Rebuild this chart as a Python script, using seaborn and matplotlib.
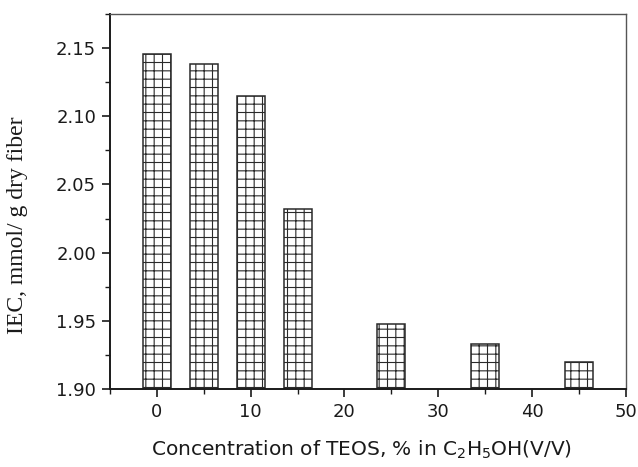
import matplotlib
matplotlib.use("Agg")
import matplotlib.pyplot as plt
from matplotlib.ticker import MultipleLocator, FormatStrFormatter
import pandas as pd
import seaborn as sns

# TEOS concentration (% in ethanol) and ion exchange capacity
teos_conc = [0, 5, 10, 15, 25, 35, 45]
iec_values = [2.146, 2.138, 2.115, 2.032, 1.948, 1.933, 1.920]

df = pd.DataFrame({"conc": teos_conc, "iec": iec_values})

sns.set_theme(style="ticks")
plt.rcParams["font.family"] = ["DejaVu Sans"]
plt.rcParams["hatch.linewidth"] = 0.8
plt.rcParams["hatch.color"] = "#2a2a2a"

fig = plt.figure(figsize=(6.38, 4.67), dpi=100)
ax = fig.add_axes([0.1724, 0.167, 0.8086, 0.803])

sns.barplot(data=df, x="conc", y="iec", native_scale=True, width=0.6,
            color="white", edgecolor="#2a2a2a", linewidth=1.1,
            hatch="++", errorbar=None, ax=ax)

ax.set_xlim(-5, 50)
ax.set_ylim(1.90, 2.175)
ax.xaxis.set_major_locator(MultipleLocator(10))
ax.xaxis.set_minor_locator(MultipleLocator(5))
ax.yaxis.set_major_locator(MultipleLocator(0.05))
ax.yaxis.set_minor_locator(MultipleLocator(0.025))
ax.yaxis.set_major_formatter(FormatStrFormatter("%.2f"))

ax.tick_params(which="major", direction="out", length=6, width=1.2,
               labelsize=13, colors="#1a1a1a", pad=4)
ax.tick_params(which="minor", direction="out", length=3.5, width=1.0,
               colors="#1a1a1a")

for side in ["left", "bottom"]:
    ax.spines[side].set_linewidth(1.4)
    ax.spines[side].set_color("#1a1a1a")
for side in ["top", "right"]:
    ax.spines[side].set_visible(True)
    ax.spines[side].set_linewidth(1.0)
    ax.spines[side].set_color("#555555")

ax.set_ylabel("IEC, mmol/ g dry fiber", family=["Liberation Serif"],
              fontsize=17, color="#1a1a1a")
ax.yaxis.set_label_coords(-0.158, 0.437)
ax.set_xlabel(r"Concentration of TEOS, % in C$_\mathregular{2}$H$_\mathregular{5}$OH(V/V)",
              fontsize=14.5, color="#1a1a1a")
ax.xaxis.set_label_coords(0.488, -0.133)

fig.savefig("out.png", dpi=100)
